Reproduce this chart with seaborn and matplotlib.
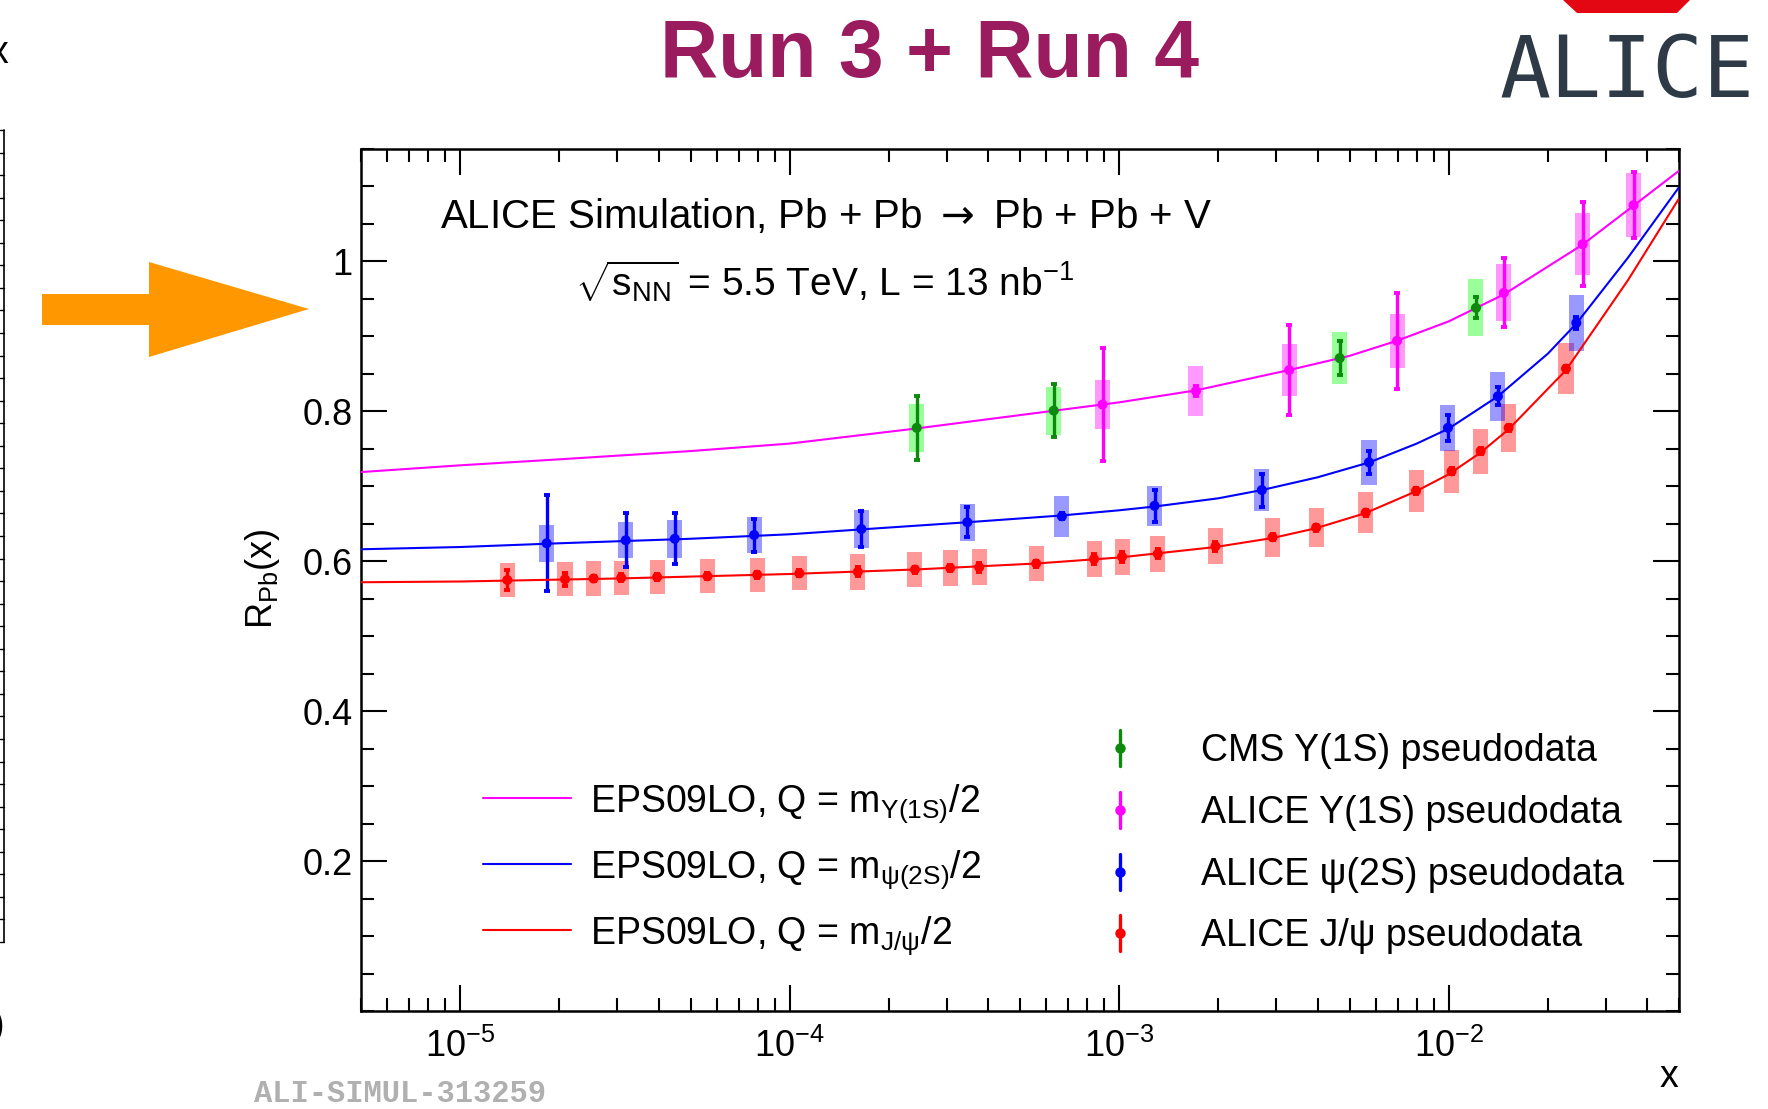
import numpy as np
import matplotlib
matplotlib.use("Agg")
import matplotlib.pyplot as plt
from matplotlib.patches import Polygon
from matplotlib.lines import Line2D
from matplotlib.ticker import FixedLocator, MultipleLocator, LogLocator, NullFormatter
import seaborn as sns

# ---------------- data ----------------
# EPS09LO theory curves
ups_curve_x = [5e-6, 1e-5, 2e-5, 5e-5, 1e-4, 2.41e-4, 5e-4, 1e-3, 1.71e-3, 3.27e-3, 5e-3, 6.95e-3, 1e-2, 1.47e-2, 2.54e-2, 3.63e-2, 5e-2]
ups_curve_y = [0.719, 0.728, 0.736, 0.747, 0.757, 0.777, 0.795, 0.812, 0.828, 0.855, 0.874, 0.894, 0.920, 0.956, 1.022, 1.074, 1.121]

psi2s_curve_x = [5e-6, 1e-5, 2e-5, 5e-5, 1e-4, 2e-4, 3.45e-4, 6.65e-4, 1e-3, 1.28e-3, 2e-3, 2.71e-3, 4e-3, 5.75e-3, 8e-3, 1e-2, 1.41e-2, 2e-2, 2.44e-2, 3.5e-2, 5e-2]
psi2s_curve_y = [0.616, 0.619, 0.624, 0.630, 0.636, 0.645, 0.652, 0.661, 0.668, 0.673, 0.684, 0.695, 0.712, 0.732, 0.757, 0.777, 0.820, 0.877, 0.917, 1.005, 1.099]

jpsi_curve_x = [5e-6, 1e-5, 3e-5, 1e-4, 2.4e-4, 5.6e-4, 1e-3, 1.96e-3, 2.92e-3, 3.95e-3, 5.57e-3, 7.93e-3, 1e-2, 1.25e-2, 1.52e-2, 2.27e-2, 3.5e-2, 5e-2]
jpsi_curve_y = [0.572, 0.573, 0.577, 0.583, 0.589, 0.597, 0.605, 0.619, 0.631, 0.644, 0.664, 0.693, 0.716, 0.745, 0.776, 0.855, 0.975, 1.084]

# pseudodata
cms_x = [2.43e-4, 6.33e-4, 4.67e-3, 1.21e-2]
cms_y = [0.778, 0.801, 0.871, 0.938]
cms_stat = [0.043, 0.035, 0.023, 0.014]
cms_sys = [0.032, 0.032, 0.035, 0.038]

ups_x = [8.9e-4, 1.71e-3, 3.28e-3, 6.97e-3, 1.47e-2, 2.55e-2, 3.64e-2]
ups_y = [0.809, 0.827, 0.855, 0.894, 0.958, 1.023, 1.075]
ups_stat = [0.075, 0.007, 0.060, 0.064, 0.046, 0.056, 0.044]
ups_sys = [0.033, 0.033, 0.035, 0.036, 0.038, 0.041, 0.043]

psi2s_x = [1.83e-5, 3.18e-5, 4.48e-5, 7.8e-5, 1.65e-4, 3.46e-4, 6.7e-4, 1.28e-3, 2.71e-3, 5.73e-3, 9.95e-3, 1.41e-2, 2.44e-2]
psi2s_y = [0.624, 0.628, 0.630, 0.635, 0.643, 0.652, 0.660, 0.674, 0.695, 0.732, 0.778, 0.820, 0.918]
psi2s_stat = [0.064, 0.036, 0.034, 0.022, 0.024, 0.020, 0.004, 0.021, 0.022, 0.015, 0.017, 0.012, 0.008]
psi2s_sys = [0.025, 0.024, 0.025, 0.024, 0.025, 0.025, 0.027, 0.027, 0.028, 0.030, 0.031, 0.033, 0.037]

jpsi_x = [1.39e-5, 2.08e-5, 2.54e-5, 3.08e-5, 3.96e-5, 5.63e-5, 7.97e-5, 1.07e-4, 1.61e-4, 2.4e-4, 3.07e-4, 3.76e-4, 5.6e-4,
          8.39e-4, 1.02e-3, 1.31e-3, 1.96e-3, 2.92e-3, 3.96e-3, 5.6e-3, 7.96e-3, 1.02e-2, 1.25e-2, 1.52e-2, 2.27e-2]
jpsi_y = [0.575, 0.576, 0.577, 0.578, 0.579, 0.580, 0.582, 0.584, 0.586, 0.589, 0.591, 0.592, 0.597,
          0.603, 0.606, 0.610, 0.620, 0.632, 0.645, 0.665, 0.694, 0.720, 0.747, 0.778, 0.857]
jpsi_stat = [0.013, 0.009, 0.004, 0.005, 0.004, 0.004, 0.004, 0.004, 0.006, 0.004, 0.004, 0.006, 0.004,
             0.007, 0.007, 0.006, 0.006, 0.004, 0.004, 0.004, 0.004, 0.004, 0.004, 0.004, 0.004]
jpsi_sys = [0.023, 0.023, 0.023, 0.023, 0.023, 0.023, 0.023, 0.023, 0.024, 0.024, 0.024, 0.024, 0.024,
            0.024, 0.024, 0.024, 0.024, 0.026, 0.026, 0.027, 0.028, 0.029, 0.030, 0.032, 0.034]

x_ticks = [1e-5, 1e-4, 1e-3, 1e-2]
x_tick_labels = [r"$\mathregular{10^{-5}}$", r"$\mathregular{10^{-4}}$", r"$\mathregular{10^{-3}}$", r"$\mathregular{10^{-2}}$"]
y_ticks = [0.2, 0.4, 0.6, 0.8, 1.0]
y_tick_labels = ["0.2", "0.4", "0.6", "0.8", "1"]

curve_labels = [r"EPS09LO, Q = $\mathregular{m_{Υ(1S)}}$/2",
                r"EPS09LO, Q = $\mathregular{m_{ψ(2S)}}$/2",
                r"EPS09LO, Q = $\mathregular{m_{J/ψ}}$/2"]
data_labels = ["CMS Υ(1S) pseudodata", "ALICE Υ(1S) pseudodata",
               "ALICE ψ(2S) pseudodata", "ALICE J/ψ pseudodata"]

# ---------------- style ----------------
sns.set_theme(style="ticks")
plt.rcParams['font.family'] = ['Liberation Sans', 'DejaVu Sans']
plt.rcParams['mathtext.fontset'] = 'custom'
plt.rcParams['mathtext.rm'] = 'Liberation Sans'
plt.rcParams['mathtext.it'] = 'Liberation Sans:italic'
plt.rcParams['mathtext.bf'] = 'Liberation Sans:bold'
plt.rcParams['mathtext.sf'] = 'Liberation Sans'

MAG = "#ff00ff"
BLU = "#0000ff"
RED = "#ff0000"
GRN_M = "#0b8a0b"
GRN_B = "#00ff00"

W, H = 1768, 1109
fig = plt.figure(figsize=(W / 100, H / 100), dpi=100)
fig.patch.set_facecolor("white")
ax = fig.add_axes([361 / W, 1 - 1011 / H, 1318 / W, 862 / H])
ax.set_facecolor("white")
ax.set_xscale("log")

HW = 0.0228  # box half width in decades


def draw_series(x, y, stat, sys_, mcolor, bcolor, z):
    x = np.asarray(x); y = np.asarray(y); sys_ = np.asarray(sys_)
    left = x * 10 ** (-HW)
    width = x * (10 ** HW - 10 ** (-HW))
    ax.bar(left, 2 * sys_, width=width, bottom=y - sys_, align="edge",
           color=bcolor, alpha=0.4, linewidth=0, zorder=z)
    ax.errorbar(x, y, yerr=stat, fmt="none", ecolor=mcolor, elinewidth=2.4,
                capsize=2.4, capthick=2.8, zorder=z + 2)
    sns.scatterplot(x=x, y=y, color=mcolor, s=52, edgecolor="none", ax=ax,
                    zorder=z + 3, legend=False)


# curves
sns.lineplot(x=ups_curve_x, y=ups_curve_y, color=MAG, lw=1.5, ax=ax, estimator=None, sort=False, zorder=5)
sns.lineplot(x=psi2s_curve_x, y=psi2s_curve_y, color=BLU, lw=1.5, ax=ax, estimator=None, sort=False, zorder=5)
sns.lineplot(x=jpsi_curve_x, y=jpsi_curve_y, color=RED, lw=1.5, ax=ax, estimator=None, sort=False, zorder=5)

draw_series(jpsi_x, jpsi_y, jpsi_stat, jpsi_sys, RED, RED, 2)
draw_series(psi2s_x, psi2s_y, psi2s_stat, psi2s_sys, BLU, BLU, 2)
draw_series(ups_x, ups_y, ups_stat, ups_sys, MAG, MAG, 2)
draw_series(cms_x, cms_y, cms_stat, cms_sys, GRN_M, GRN_B, 2)

ax.set_xlim(5e-6, 5e-2)
ax.set_ylim(0, 1.15)

ax.xaxis.set_major_locator(FixedLocator(x_ticks))
ax.set_xticklabels(x_tick_labels)
ax.xaxis.set_minor_locator(LogLocator(base=10, subs=np.arange(2, 10)))
ax.xaxis.set_minor_formatter(NullFormatter())
ax.yaxis.set_major_locator(FixedLocator(y_ticks))
ax.set_yticklabels(y_tick_labels)
ax.yaxis.set_minor_locator(MultipleLocator(0.05))
ax.set_xlabel("")
ax.set_ylabel("")

for s in ax.spines.values():
    s.set_linewidth(1.8)
    s.set_color("black")
    s.set_visible(True)
ax.tick_params(which="both", direction="in", top=True, right=True, color="black", width=1.5)
ax.tick_params(which="major", length=19, labelsize=26, labelcolor="black")
ax.tick_params(which="minor", length=9.5)
ax.tick_params(axis="x", which="major", pad=13)
ax.tick_params(axis="y", which="major", pad=6)

# texts inside
ax.text(0.0599, 0.9246 - 0.0167, r"ALICE Simulation, Pb + Pb$\;\rightarrow\;$Pb + Pb + V",
        transform=ax.transAxes, fontsize=29, ha="left", va="baseline", color="black",
        math_fontfamily="dejavusans")
ax.text(0.3517, 0.8457 - 0.0167,
        r"$\sqrt{\mathregular{s}_{\mathregular{NN}}}$ = 5.5 TeV, L = 13 nb$^{\mathregular{-1}}$",
        transform=ax.transAxes, fontsize=28, ha="center", va="baseline", color="black")

# left legend (curves)
for yy, col, lab in zip([0.2471, 0.1705, 0.0940], [MAG, BLU, RED], curve_labels):
    ax.add_line(Line2D([0.0926, 0.1593], [yy, yy], transform=ax.transAxes, color=col, lw=1.5))
    ax.text(0.1737, yy - 0.0156, lab, transform=ax.transAxes, fontsize=27,
            ha="left", va="baseline", color="black")

# right legend (data)
for yy, col, lab in zip([0.3051, 0.2332, 0.1613, 0.0905], [GRN_M, MAG, BLU, RED], data_labels):
    ax.add_line(Line2D([0.5759, 0.5759], [yy - 0.021, yy + 0.021], transform=ax.transAxes, color=col, lw=2.4))
    ax.add_line(Line2D([0.5759], [yy], transform=ax.transAxes, color=col, marker="o", ms=7.5, mec="none", lw=0))
    ax.text(0.6373, yy - 0.0156, lab, transform=ax.transAxes, fontsize=27,
            ha="left", va="baseline", color="black")

# figure texts
fig.text(930 / W, 1 - 77 / H, "Run 3 + Run 4", fontsize=58, weight="bold",
         color="#9b1b5f", ha="center", va="baseline")
fig.text(1627 / W, 1 - 97 / H, "ALICE", family="DejaVu Sans Mono", weight="normal",
         fontsize=61, color="#2e3a46", ha="center", va="baseline")
fig.patches.append(Polygon([[1563 / W, 1.0], [1690 / W, 1.0], [1677 / W, 1 - 13 / H], [1577 / W, 1 - 13 / H]],
                           closed=True, transform=fig.transFigure, facecolor="#e30613", edgecolor="none"))

# orange arrow
arrow_px = [(42, 294), (149, 294), (149, 262), (309, 309), (149, 357), (149, 325), (42, 325)]
fig.patches.append(Polygon([[px / W, 1 - py / H] for px, py in arrow_px], closed=True,
                           transform=fig.transFigure, facecolor="#ff9800", edgecolor="none"))

fig.text(263 / W, 1 - 579 / H, r"R$_{\mathregular{Pb}}$(x)", rotation=90, fontsize=26,
         ha="center", va="center", color="black")
fig.text(1669 / W, 1 - 1077 / H, "x", fontsize=27, ha="center", va="center", color="black")
fig.text(254 / W, 1 - 1094 / H, "ALI-SIMUL-313259", family="Liberation Mono", weight="bold",
         fontsize=22, color="#b0b0b0", ha="left", va="center")

# partial neighbouring panel at the left edge
fig.add_artist(Line2D([4 / W, 4 / W], [1 - 130 / H, 1 - 942 / H], transform=fig.transFigure, color="black", lw=1.2))
for k in range(37):
    ty = 130 + k * (942 - 130) / 36
    fig.add_artist(Line2D([0, 4 / W], [1 - ty / H, 1 - ty / H], transform=fig.transFigure, color="black", lw=1.0))
fig.text(8 / W, 1 - 53 / H, "x", fontsize=27, ha="right", va="center", color="black")
fig.text(4 / W, 1 - 1026 / H, ")", fontsize=27, ha="right", va="center", color="black")

fig.savefig("out.png", dpi=100, facecolor="white")
